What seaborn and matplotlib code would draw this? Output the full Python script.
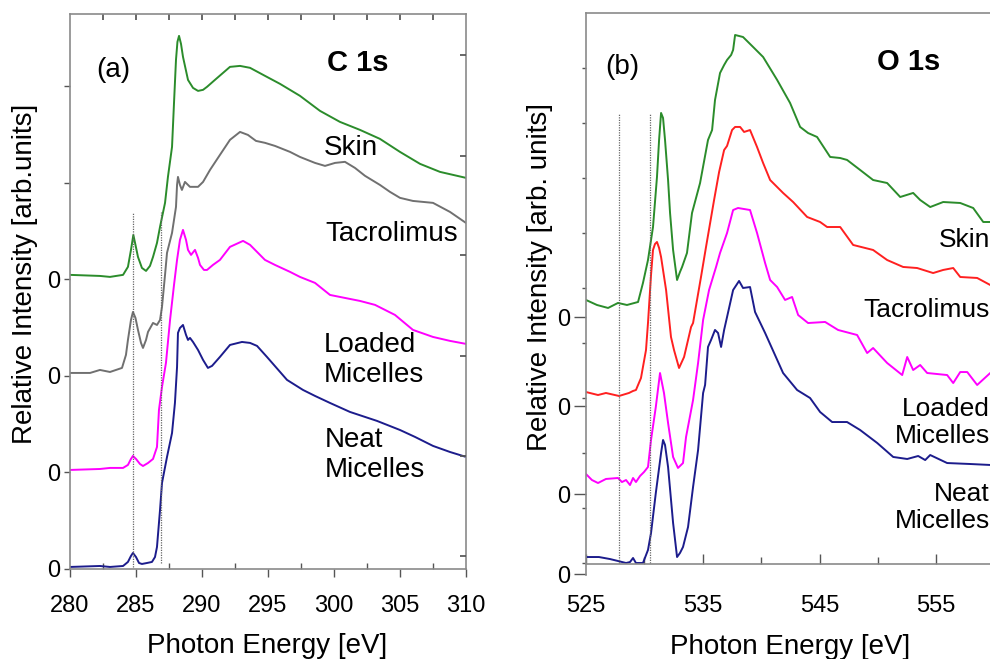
import numpy as np
import pandas as pd
import matplotlib
matplotlib.use("Agg")
import matplotlib.pyplot as plt
import seaborn as sns

# ---------------- (a) C 1s  (stacked, offsets already in the values) ----------------
c_skin_e = [280.00, 282.27, 283.03, 284.02, 284.39, 284.62, 284.80, 284.96, 285.15, 285.45,
            285.76, 286.06, 286.29, 286.59, 286.82, 287.20, 287.42, 287.73, 287.88, 288.03,
            288.14, 288.26, 288.41, 288.56, 288.94, 289.32, 289.70, 290.08, 290.38, 290.98,
            292.12, 292.88, 293.64, 294.77, 295.91, 297.42, 298.94, 300.45, 301.97, 303.48,
            305.00, 306.52, 308.03, 310.00]
c_skin_i = [3.047, 3.036, 3.026, 3.047, 3.130, 3.306, 3.461, 3.358, 3.233, 3.119,
            3.088, 3.140, 3.233, 3.378, 3.544, 3.793, 4.062, 4.373, 4.829, 5.275,
            5.461, 5.523, 5.440, 5.306, 5.067, 4.984, 4.953, 4.964, 4.995, 5.067,
            5.202, 5.212, 5.192, 5.109, 5.026, 4.902, 4.746, 4.632, 4.549, 4.456,
            4.321, 4.197, 4.114, 4.052]

c_tacro_e = [280.00, 281.52, 282.27, 283.03, 283.94, 284.24, 284.39, 284.62, 284.77, 284.96,
             285.15, 285.38, 285.53, 285.76, 285.91, 286.29, 286.59, 286.82, 286.97, 287.20,
             287.35, 287.73, 288.03, 288.11, 288.18, 288.33, 288.48, 288.71, 289.09, 289.70,
             290.08, 290.61, 291.36, 292.12, 292.88, 293.48, 294.09, 294.77, 295.53, 296.67,
             297.42, 298.56, 299.32, 300.08, 300.83, 301.59, 302.35, 303.48, 304.24, 305.00,
             305.98, 306.74, 307.50, 308.79, 310.00]
c_tacro_i = [2.031, 2.031, 2.062, 2.041, 2.083, 2.218, 2.373, 2.580, 2.663, 2.601,
             2.477, 2.342, 2.290, 2.373, 2.456, 2.549, 2.528, 2.580, 2.715, 3.047,
             3.275, 3.482, 3.751, 3.979, 4.062, 3.979, 3.927, 4.010, 3.959, 3.959,
             4.010, 4.135, 4.290, 4.446, 4.528, 4.497, 4.435, 4.415, 4.383, 4.321,
             4.269, 4.207, 4.176, 4.207, 4.218, 4.155, 4.073, 3.979, 3.907, 3.845,
             3.813, 3.803, 3.793, 3.699, 3.585]

c_loaded_e = [280.00, 282.27, 283.03, 284.02, 284.39, 284.62, 284.77, 285.00, 285.30, 285.53,
              285.91, 286.29, 286.59, 286.74, 286.97, 287.27, 287.58, 287.88, 288.11, 288.33,
              288.56, 288.79, 288.94, 289.17, 289.47, 289.70, 289.85, 290.15, 290.38, 290.83,
              291.36, 292.12, 293.11, 293.64, 294.77, 295.53, 296.67, 297.42, 298.56, 299.70,
              300.83, 301.97, 303.11, 304.62, 305.98, 307.50, 308.79, 310.00]
c_loaded_i = [1.026, 1.036, 1.047, 1.047, 1.078, 1.140, 1.171, 1.140, 1.088, 1.067,
              1.098, 1.140, 1.264, 1.648, 1.886, 2.135, 2.580, 2.943, 3.202, 3.409,
              3.513, 3.409, 3.306, 3.254, 3.306, 3.223, 3.150, 3.098, 3.098, 3.150,
              3.202, 3.337, 3.399, 3.358, 3.202, 3.150, 3.078, 3.026, 2.964, 2.839,
              2.808, 2.777, 2.736, 2.632, 2.477, 2.404, 2.363, 2.332]

c_neat_e = [280.00, 282.27, 283.03, 284.02, 284.39, 284.62, 284.77, 285.00, 285.23, 285.45,
            285.83, 286.21, 286.44, 286.59, 286.82, 286.97, 287.35, 287.73, 287.95, 288.11,
            288.18, 288.33, 288.56, 288.79, 288.94, 289.09, 289.32, 289.70, 290.08, 290.45,
            290.76, 291.36, 292.12, 293.03, 293.64, 294.17, 294.92, 296.44, 297.65, 298.56,
            299.70, 301.21, 303.26, 305.00, 306.14, 307.50, 308.79, 310.00]
c_neat_i = [0.021, 0.031, 0.021, 0.031, 0.073, 0.135, 0.166, 0.124, 0.062, 0.052,
            0.062, 0.073, 0.124, 0.228, 0.611, 0.891, 1.161, 1.409, 1.720, 2.093,
            2.446, 2.497, 2.528, 2.425, 2.373, 2.394, 2.352, 2.269, 2.166, 2.083,
            2.104, 2.197, 2.321, 2.352, 2.342, 2.311, 2.197, 1.959, 1.855, 1.793,
            1.720, 1.627, 1.534, 1.440, 1.368, 1.275, 1.212, 1.161]

c_marker_e = [284.8, 286.9]          # dotted reference lines
c_marker_lo = [0.02, 0.06]
c_marker_hi = 3.70

# ---------------- (b) O 1s ----------------
o_skin_e = [525.00, 525.94, 526.89, 527.74, 528.51, 529.46, 529.88, 530.31, 530.74, 531.08,
            531.26, 531.43, 531.60, 531.77, 532.03, 532.20, 532.46, 532.80, 533.05, 533.23,
            533.65, 534.08, 534.77, 535.45, 535.80, 536.05, 536.48, 536.83, 537.08, 537.43,
            537.60, 537.77, 538.45, 539.31, 540.17, 541.37, 542.48, 543.34, 544.02, 544.79,
            545.91, 546.77, 547.36, 548.48, 549.59, 550.79, 551.91, 553.02, 553.62, 554.48,
            555.59, 557.05, 558.16, 559.02, 559.62]
o_skin_i = [3.114, 3.057, 3.023, 3.080, 3.057, 3.091, 3.307, 3.568, 3.943, 4.511,
            4.932, 5.239, 5.182, 4.932, 4.477, 4.102, 3.682, 3.341, 3.432, 3.489,
            3.648, 4.102, 4.443, 4.932, 5.045, 5.386, 5.693, 5.784, 5.841, 5.898,
            5.955, 6.125, 6.102, 5.989, 5.875, 5.614, 5.352, 5.080, 5.011, 4.966,
            4.739, 4.727, 4.705, 4.591, 4.477, 4.443, 4.284, 4.330, 4.250, 4.170,
            4.227, 4.216, 4.159, 4.000, 4.000]

o_tacro_e = [525.00, 526.03, 526.71, 527.83, 528.68, 529.03, 529.28, 529.71, 530.14, 530.31,
             530.57, 530.74, 530.91, 531.08, 531.26, 531.43, 531.86, 532.28, 532.54, 532.97,
             533.40, 533.74, 534.00, 534.17, 534.85, 535.28, 535.97, 536.40, 536.83, 537.08,
             537.51, 537.77, 538.20, 538.54, 539.05, 539.65, 540.17, 540.77, 541.88, 542.74,
             543.94, 545.05, 545.65, 546.77, 547.88, 549.59, 550.79, 552.16, 553.36, 554.73,
             555.59, 556.45, 557.05, 558.50, 559.62]
o_tacro_i = [2.068, 2.034, 2.057, 2.023, 2.057, 2.080, 2.091, 2.227, 2.545, 2.852,
             3.398, 3.682, 3.750, 3.773, 3.705, 3.602, 3.227, 2.693, 2.545, 2.341,
             2.466, 2.659, 2.807, 2.852, 3.375, 3.716, 4.250, 4.568, 4.818, 4.864,
             5.045, 5.080, 5.080, 5.023, 5.045, 4.852, 4.670, 4.477, 4.330, 4.227,
             4.057, 4.000, 3.943, 3.943, 3.739, 3.682, 3.568, 3.489, 3.477, 3.420,
             3.455, 3.477, 3.375, 3.364, 3.284]

o_loaded_e = [525.00, 525.51, 526.03, 526.71, 527.74, 528.08, 528.43, 528.77, 529.03, 529.28,
              529.63, 529.97, 530.31, 530.57, 530.98, 531.34, 531.68, 532.03, 532.46, 532.88,
              533.31, 533.57, 534.17, 534.60, 535.03, 535.54, 536.14, 536.48, 537.08, 537.60,
              538.02, 539.05, 539.65, 540.34, 540.77, 541.37, 542.05, 542.65, 543.17, 544.02,
              545.48, 546.59, 548.22, 549.08, 549.59, 550.79, 552.08, 552.51, 553.02, 553.62,
              554.22, 555.93, 556.45, 557.05, 557.65, 558.50, 559.62]
o_loaded_i = [1.136, 1.068, 1.034, 1.080, 1.091, 1.045, 1.068, 1.011, 1.091, 1.045,
              1.114, 1.159, 1.216, 1.523, 1.898, 2.284, 2.057, 1.716, 1.330, 1.205,
              1.261, 1.557, 1.977, 2.398, 2.886, 3.227, 3.489, 3.648, 3.875, 4.136,
              4.159, 4.136, 3.875, 3.534, 3.341, 3.261, 3.114, 3.148, 2.943, 2.852,
              2.864, 2.773, 2.716, 2.511, 2.568, 2.398, 2.261, 2.466, 2.318, 2.375,
              2.284, 2.261, 2.170, 2.295, 2.295, 2.148, 2.284]

o_neat_e = [525.00, 526.11, 527.06, 527.74, 528.43, 528.77, 529.03, 529.28, 529.88, 530.31,
            530.57, 530.98, 531.43, 531.60, 531.77, 532.03, 532.46, 532.80, 533.05, 533.31,
            533.74, 534.17, 534.60, 535.03, 535.20, 535.45, 535.71, 536.05, 536.31, 536.57,
            536.83, 537.08, 537.60, 538.11, 538.45, 539.05, 539.48, 540.34, 541.88, 543.08,
            544.19, 545.05, 546.08, 547.36, 548.48, 549.94, 551.31, 552.51, 553.45, 554.05,
            554.48, 555.93, 557.90, 559.62]
o_neat_i = [0.193, 0.193, 0.170, 0.148, 0.125, 0.136, 0.182, 0.125, 0.125, 0.273,
            0.466, 0.920, 1.375, 1.523, 1.466, 1.216, 0.580, 0.193, 0.239, 0.307,
            0.534, 0.989, 1.409, 2.057, 2.148, 2.580, 2.659, 2.773, 2.739, 2.580,
            2.773, 2.920, 3.227, 3.330, 3.250, 3.261, 2.977, 2.739, 2.284, 2.091,
            2.000, 1.841, 1.727, 1.727, 1.636, 1.489, 1.330, 1.307, 1.341, 1.295,
            1.352, 1.261, 1.250, 1.239]

o_marker_e = [527.8, 530.45]
o_marker_lo = 0.125
o_marker_hi = 5.24

samples = ["Skin", "Tacrolimus", "Loaded Micelles", "Neat Micelles"]
c_colors = ["#2b8c2b", "#707070", "#ff00ff", "#1c1c8c"]
o_colors = ["#2b8c2b", "#ff2020", "#ff00ff", "#1c1c8c"]


def long_frame(pairs):
    parts = []
    for name, (e, i) in zip(samples, pairs):
        parts.append(pd.DataFrame({"energy": e, "intensity": i, "sample": name}))
    return pd.concat(parts, ignore_index=True)


df_c = long_frame([(c_skin_e, c_skin_i), (c_tacro_e, c_tacro_i),
                   (c_loaded_e, c_loaded_i), (c_neat_e, c_neat_i)])
df_o = long_frame([(o_skin_e, o_skin_i), (o_tacro_e, o_tacro_i),
                   (o_loaded_e, o_loaded_i), (o_neat_e, o_neat_i)])

sns.set_theme(style="ticks")
plt.rcParams["font.family"] = ["Liberation Sans", "DejaVu Sans"]
plt.rcParams["text.color"] = "black"
plt.rcParams["axes.labelcolor"] = "black"
spine_col = "#8a8a8a"
tick_col = "#555555"

fig = plt.figure(figsize=(9.9, 6.59), dpi=100)

# ---------- panel (a) ----------
ax = fig.add_axes([0.0707, 0.1366, 0.4, 0.8422])
sns.lineplot(data=df_c, x="energy", y="intensity", hue="sample", hue_order=samples,
             palette=c_colors, sort=False, estimator=None, legend=False, lw=1.4, ax=ax)
for e, lo in zip(c_marker_e, c_marker_lo):
    ax.plot([e, e], [lo, c_marker_hi], ls=(0, (1, 1)), color="#666666", lw=0.9)
ax.set_xlim(280, 310)
ax.set_ylim(0, 5.75)
ax.set_xticks(np.arange(280, 311, 5))
ax.set_xticks(np.arange(282.5, 310, 5), minor=True)
ax.set_yticks(range(6))
ax.set_yticklabels(["0", "0", "0", "0", "", ""])
ax.tick_params(axis="x", which="major", direction="out", length=6, width=1,
               color=tick_col, labelcolor="black", labelsize=17, pad=13)
ax.tick_params(axis="x", which="minor", direction="in", length=4, width=1, color=tick_col)
ax.tick_params(axis="y", which="major", direction="out", length=4, width=1,
               color=tick_col, labelcolor="black", labelsize=17, pad=3)
for s in ax.spines.values():
    s.set_color(spine_col)
    s.set_linewidth(1.2)
top = ax.secondary_xaxis("top")
top.set_xticks(np.arange(282.5, 310, 2.5))
top.set_xticklabels([])
top.tick_params(direction="in", length=4, color=tick_col)
top.spines["top"].set_visible(False)
right = ax.twinx()
right.set_ylim(0, 5.75)
right.set_yticks([0.135, 1.17, 2.21, 3.25, 4.28, 5.32])
right.set_yticklabels([])
right.tick_params(direction="in", length=4, color=tick_col)
right.spines[:].set_visible(False)
right.grid(False)

ax.set_xlabel("Photon Energy [eV]", fontsize=20)
ax.set_ylabel("Relative Intensity [arb.units]", fontsize=20)
ax.xaxis.set_label_coords(0.497, -0.116)
ax.yaxis.set_label_coords(-0.081, 0.532)
ax.text(283.26, 5.17, "(a)", fontsize=20, ha="center", va="center")
ax.text(301.82, 5.24, "C 1s", fontsize=21, fontweight="bold", ha="center", va="center")
ax.text(299.24, 4.36, "Skin", fontsize=20, va="center")
ax.text(299.32, 3.47, "Tacrolimus", fontsize=20, va="center")
ax.text(299.24, 2.17, "Loaded\nMicelles", fontsize=20, va="center", linespacing=1.2)
ax.text(299.32, 1.18, "Neat\nMicelles", fontsize=20, va="center", linespacing=1.2)

# ---------- panel (b) ----------
bx = fig.add_axes([0.5919, 0.1275, 0.4081, 0.8528])
sns.lineplot(data=df_o, x="energy", y="intensity", hue="sample", hue_order=samples,
             palette=o_colors, sort=False, estimator=None, legend=False, lw=1.4, ax=bx)
for e in o_marker_e:
    bx.plot([e, e], [o_marker_lo, o_marker_hi], ls=(0, (1, 1)), color="#666666", lw=0.9)
bx.set_xlim(525, 559.6)
bx.set_ylim(-0.011, 6.375)
bx.spines["bottom"].set_position(("data", 0.114))
bx.spines["right"].set_visible(False)
for s in bx.spines.values():
    s.set_color(spine_col)
    s.set_linewidth(1.2)
bx.set_xticks([525, 535, 545, 555])
bx.set_xticks([530, 540, 550], minor=True)
bx.set_yticks([0, 0.909, 1.909, 2.92])
bx.set_yticklabels(["0", "0", "0", "0"])
bx.set_yticks(np.arange(0.125, 5.8, 0.625), minor=True)
bx.tick_params(axis="x", which="major", direction="in", length=7, width=1,
               color=tick_col, labelcolor="black", labelsize=17, pad=22)
bx.tick_params(axis="x", which="minor", direction="in", length=5, width=1, color=tick_col)
bx.tick_params(axis="y", which="major", direction="out", length=9, width=1,
               color=tick_col, labelcolor="black", labelsize=17, pad=2)
bx.tick_params(axis="y", which="minor", direction="out", length=3, width=1, color=tick_col)

bx.set_xlabel("Photon Energy [eV]", fontsize=20)
bx.set_ylabel("Relative Intensity [arb. units]", fontsize=20)
bx.xaxis.set_label_coords(0.505, -0.105)
bx.yaxis.set_label_coords(-0.082, 0.531)
bx.text(528.08, 5.76, "(b)", fontsize=20, ha="center", va="center")
bx.text(552.59, 5.82, "O 1s", fontsize=21, fontweight="bold", ha="center", va="center")
bx.text(559.6, 3.80, "Skin", fontsize=19, ha="right", va="center")
bx.text(559.6, 3.00, "Tacrolimus", fontsize=19, ha="right", va="center")
bx.text(559.6, 1.72, "Loaded\nMicelles", fontsize=19, ha="right", va="center",
        multialignment="right", linespacing=1.15)
bx.text(559.6, 0.76, "Neat\nMicelles", fontsize=19, ha="right", va="center",
        multialignment="right", linespacing=1.15)

fig.savefig("out.png", dpi=100)
